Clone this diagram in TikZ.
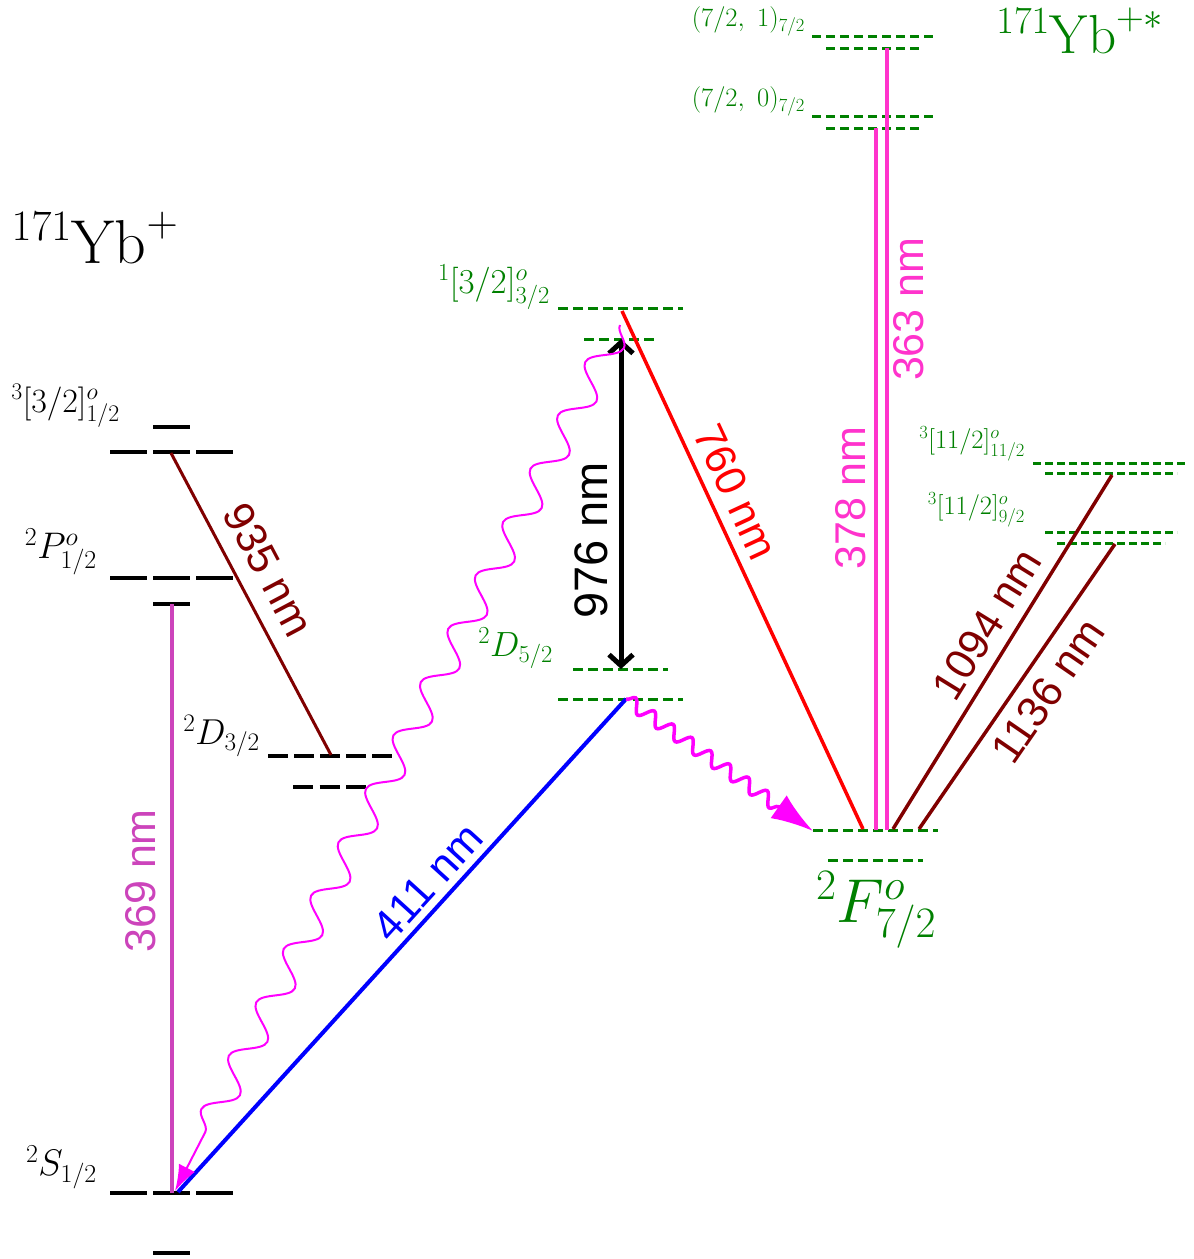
\RequirePackage{fix-cm}
\documentclass[tikz,border=0pt]{standalone}
\usepackage{fontspec}
\usepackage{amsmath}
\usetikzlibrary{
  arrows.meta,
  decorations.pathmorphing,
  positioning
}
\newfontfamily\nmfont{Liberation Sans}
\definecolor{ybGreen}{HTML}{008000}
\definecolor{ybDarkRed}{HTML}{800000}
\definecolor{ybOrchid}{HTML}{CC44BB}
\definecolor{ybPink}{HTML}{FF33CC}
\definecolor{ybMagenta}{HTML}{FF00FF}
\tikzset{
  blevel/.style={line width=4pt, black},
  glevel/.style={line width=3pt, ybGreen, dash pattern=on 10pt off 5pt},
  statelab/.style={inner sep=0pt, font=\fontsize{37}{37}\selectfont},
  termlab/.style={inner sep=0pt, font=\fontsize{34}{34}\selectfont},
  gstatelab/.style={statelab, text=ybGreen, font=\fontsize{35}{35}\selectfont},
  smallglab/.style={inner sep=0pt, text=ybGreen, font=\fontsize{26.5}{26.5}\selectfont},
  ionlab/.style={inner sep=0pt, font=\fontsize{62}{62}\selectfont},
  wavelab/.style={inner sep=0pt, font=\nmfont\fontsize{43}{43}\selectfont},
  trans/.style={line width=3.5pt},
  photon/.style={ybMagenta, decorate, line width=2pt}
}

\begin{document}
\begin{tikzpicture}[x=1pt, y=-1pt]
  \useasboundingbox (0,0) rectangle (1194,1259);
  % Yb+ levels
  \foreach \y in {452, 578, 1193}{\draw[blevel, dash pattern=on 37pt off 6pt] (110,\y) -- (233,\y);}
  \foreach \y in {427, 604, 1253}{\draw[blevel] (153,\y) -- (190,\y);}
  \draw[blevel, dash pattern=on 20pt off 6pt] (268,756) -- (392,756);
  \draw[blevel, dash pattern=on 20pt off 6.5pt] (293,787) -- (366,787);
  % Yb+* levels
  \foreach \xa/\xb/\y in {558/683/308, 584/656/339, 573/668/669, 558/683/699, 813/938/830, 828/923/860}
    {\draw[glevel] (\xa,\y) -- (\xb,\y);}
  \foreach \xa/\xb/\y in {812/937/36, 826/922/48, 812/937/116, 826/922/128}
    {\draw[glevel, dash pattern=on 9pt off 5pt] (\xa,\y) -- (\xb,\y);}
  \foreach \xa/\xb/\y in {1033/1188/463, 1045/1177/473, 1045/1177/532, 1057/1165/543}
    {\draw[glevel, dash pattern=on 8pt off 4pt] (\xa,\y) -- (\xb,\y);}

  % level names
  \node[ionlab] (yb) at (95,238) {$^{171}\mathrm{Yb}^{+}$};
  \node[termlab, anchor=east] (n3p) at (120,406) {$^3[3/2]^o_{1/2}$};
  \node[statelab, anchor=east] (n2p) at (97,552) {$^2P^o_{1/2}$};
  \node[statelab, anchor=east, font=\fontsize{36}{36}\selectfont] (n2d3) at (260,736) {$^2D_{3/2}$};
  \node[statelab, anchor=east] (n2s) at (97,1167) {$^2S_{1/2}$};
  \node[ionlab, text=ybGreen, font=\fontsize{55}{55}\selectfont] (ybx) at (1080,31) {$^{171}\mathrm{Yb}^{+*}$};
  \node[smallglab, anchor=east] (n71) at (805,21) {$(7/2,\ 1)_{7/2}$};
  \node[smallglab, anchor=east] (n70) at (805,101) {$(7/2,\ 0)_{7/2}$};
  \node[gstatelab, anchor=east] (n1p) at (550,287) {$^1[3/2]^o_{3/2}$};
  \node[gstatelab, anchor=east] (n2d5) at (553,648) {$^2D_{5/2}$};
  \node[smallglab, anchor=east] (n11a) at (1025,444) {$^3[11/2]^o_{11/2}$};
  \node[smallglab, anchor=east] (n11b) at (1025,510) {$^3[11/2]^o_{9/2}$};
  \node[ionlab, text=ybGreen] (n2f) at (876,910) {$^2F^o_{7/2}$};

  % transition end points
  \coordinate (s0) at (172,1193);
  \coordinate (s1) at (178,1192);
  \coordinate (sw) at (175,1191);
  \coordinate (p0) at (172,604);
  \coordinate (q0) at (171,453);
  \coordinate (d3) at (331,755);
  \coordinate (d5a) at (621,669);
  \coordinate (d5b) at (626,699);
  \coordinate (e1) at (621,339);
  \coordinate (e0) at (622,311);
  \coordinate (ew) at (620,325);
  \coordinate (f0) at (813,831);
  \coordinate (f1) at (863,829);
  \coordinate (f2) at (876,830);
  \coordinate (f3) at (887,830);
  \coordinate (f4) at (893,829);
  \coordinate (f5) at (919,829);
  \coordinate (h0) at (876,128);
  \coordinate (h1) at (887,48);
  \coordinate (k1) at (1112,475);
  \coordinate (k0) at (1115,544);

  % transitions
  \draw[trans, ybOrchid, line width=4pt] (s0) -- node[wavelab, text=ybOrchid, pos=0.53, sloped, above=14pt] (l369) {369 nm} (p0);
  \draw[trans, ybDarkRed, line width=3pt] (q0) -- node[wavelab, text=ybDarkRed, pos=0.435, sloped, above=15pt] (l935) {935 nm} (d3);
  \draw[trans, blue, line width=4pt] (s1) -- node[wavelab, text=blue, pos=0.596, sloped, above=7pt] (l411) {411 nm} (d5b);
  \draw[line width=5pt, {Straight Barb[length=11pt,width=24pt]}-{Straight Barb[length=11pt,width=24pt]}] (d5a) -- node[wavelab, font=\nmfont\fontsize{47}{47}\selectfont, pos=0.39, sloped, above=11pt] (l976) {976 nm} (e1);
  \draw[trans, red] (e0) -- node[wavelab, text=red, pos=0.371, sloped, above=10pt] (l760) {760 nm} (f1);
  \draw[trans, ybPink] (f2) -- node[wavelab, text=ybPink, pos=0.473, sloped, above=8.6pt] (l378) {378 nm} (h0);
  \draw[trans, ybPink] (f3) -- node[wavelab, text=ybPink, pos=0.666, sloped, below=4.6pt] (l363) {363 nm} (h1);
  \draw[trans, ybDarkRed] (f4) -- node[wavelab, text=ybDarkRed, pos=0.537, sloped, above=11pt] (l1094) {1094 nm} (k1);
  \draw[trans, ybDarkRed] (f5) -- node[wavelab, text=ybDarkRed, pos=0.54, sloped, below=11pt] (l1136) {1136 nm} (k0);
  % spontaneous decays
  \draw[photon, -{Latex[length=26pt, width=18pt]}, decoration={snake, amplitude=14pt, segment length=60pt, post length=55pt}] (ew) -- (sw);
  \draw[photon, line width=3.5pt, -{Latex[length=42pt, width=28pt]}, decoration={snake, amplitude=6.5pt, segment length=23pt, post length=42pt}] (d5b) -- (f0);
\end{tikzpicture}
\end{document}
